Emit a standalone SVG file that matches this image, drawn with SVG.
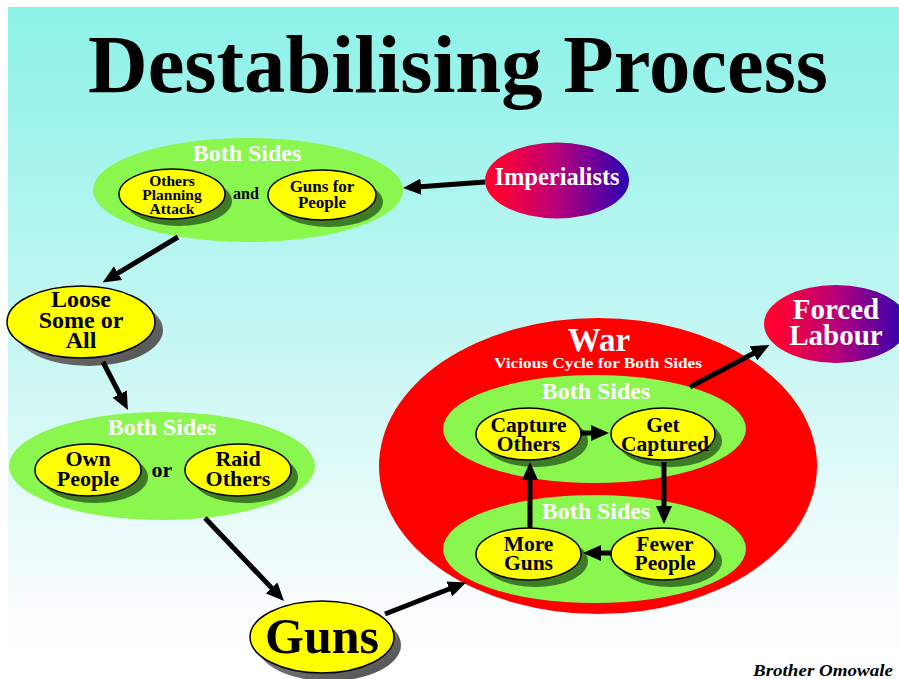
<svg xmlns="http://www.w3.org/2000/svg" width="899" height="679" viewBox="0 0 899 679">
<defs>
<linearGradient id="bg" x1="0" y1="0" x2="0" y2="1">
<stop offset="0" stop-color="#8cf2e8"/>
<stop offset="0.5" stop-color="#c6f7f3"/>
<stop offset="0.9" stop-color="#fbfdfe"/>
<stop offset="1" stop-color="#ffffff"/>
</linearGradient>
<linearGradient id="purp" x1="0" y1="0" x2="1" y2="0">
<stop offset="0.1" stop-color="#ff0033"/>
<stop offset="0.5" stop-color="#b8007a"/>
<stop offset="1" stop-color="#2a00b4"/>
</linearGradient>
<linearGradient id="gray" x1="0" y1="0" x2="1" y2="1">
<stop offset="0" stop-color="#8a8a8a"/>
<stop offset="1" stop-color="#505050"/>
</linearGradient>
<marker id="ah" viewBox="0 0 18 16" markerWidth="18" markerHeight="16" markerUnits="userSpaceOnUse" refX="4" refY="8" orient="auto">
<path d="M0,0 L18,8 L0,16 z" fill="#000"/>
</marker>
<style>
text{font-family:"Liberation Serif","Times New Roman",serif;font-weight:bold;text-anchor:middle}
.green{fill:#8af74f}
.yel{fill:#ffff00;stroke:#000;stroke-width:1.5}
.dsh{fill:#3e7b26}
.gsh{fill:url(#gray)}
.w{fill:#fff}
.k{fill:#000}
.arr line{stroke:#000;stroke-width:5;marker-end:url(#ah)}
</style>
</defs>
<rect x="0" y="0" width="899" height="679" fill="#fff"/>
<rect x="8" y="7" width="891" height="672" fill="url(#bg)"/>
<text id="title" x="458" y="92" font-size="83" textLength="740" lengthAdjust="spacingAndGlyphs" class="k">Destabilising Process</text>

<g id="war">
<ellipse cx="598" cy="466" rx="219" ry="148" fill="#ff0000"/>
<text x="599" y="351" font-size="33" class="w">War</text>
<text x="598" y="368" font-size="15" textLength="208" lengthAdjust="spacingAndGlyphs" class="w">Vicious Cycle for Both Sides</text>
</g>
<g id="both-upper">
<ellipse cx="594.5" cy="429" rx="151.5" ry="54" class="green"/>
<text x="596" y="399" font-size="24" class="w">Both Sides</text>
</g>
<g id="both-lower">
<ellipse cx="594.5" cy="549" rx="151.5" ry="54" class="green"/>
<text x="596" y="519" font-size="24" class="w">Both Sides</text>
</g>

<g id="both-top">
<ellipse cx="248" cy="190" rx="155" ry="52" class="green"/>
<text x="247" y="161" font-size="24" class="w">Both Sides</text>
<text x="246" y="199" font-size="16" class="k">and</text>
</g>
<g id="others-planning">
<ellipse cx="179" cy="201" rx="53" ry="25" class="dsh"/>
<ellipse cx="172" cy="194" rx="53" ry="25" class="yel"/>
<text font-size="15.5" class="k"><tspan x="172" y="186">Others</tspan><tspan x="172" y="200">Planning</tspan><tspan x="172" y="214">Attack</tspan></text>
</g>
<g id="guns-for-people">
<ellipse cx="329" cy="202" rx="54" ry="25" class="dsh"/>
<ellipse cx="322" cy="195" rx="54" ry="25" class="yel"/>
<text font-size="17" class="k"><tspan x="322" y="192">Guns for</tspan><tspan x="322" y="208">People</tspan></text>
</g>

<g id="imperialists">
<ellipse cx="557" cy="180.5" rx="72" ry="38" fill="url(#purp)"/>
<text x="557" y="185" font-size="24.5" class="w">Imperialists</text>
</g>

<g id="loose">
<ellipse cx="89" cy="330" rx="74" ry="36" class="gsh"/>
<ellipse cx="81" cy="322" rx="74" ry="36" class="yel"/>
<text font-size="24" class="k"><tspan x="81" y="307">Loose</tspan><tspan x="81" y="327.5">Some or</tspan><tspan x="81" y="348">All</tspan></text>
</g>

<g id="both-middle">
<ellipse cx="162" cy="466" rx="153" ry="54" class="green"/>
<text x="162" y="435" font-size="24" class="w">Both Sides</text>
<text x="162" y="477" font-size="22" class="k">or</text>
</g>
<g id="own-people">
<ellipse cx="95" cy="477" rx="53" ry="26" class="dsh"/>
<ellipse cx="88" cy="470" rx="53" ry="26" class="yel"/>
<text font-size="22" class="k"><tspan x="88" y="466">Own</tspan><tspan x="88" y="486">People</tspan></text>
</g>
<g id="raid-others">
<ellipse cx="245" cy="477" rx="53" ry="26" class="dsh"/>
<ellipse cx="238" cy="470" rx="53" ry="26" class="yel"/>
<text font-size="22" class="k"><tspan x="238" y="466">Raid</tspan><tspan x="238" y="486">Others</tspan></text>
</g>

<g id="guns">
<ellipse cx="329" cy="645" rx="72" ry="36" class="gsh"/>
<ellipse cx="322" cy="637" rx="72" ry="36" class="yel"/>
<text x="322" y="653" font-size="50" class="k">Guns</text>
</g>

<g id="capture-others">
<ellipse cx="535.5" cy="441" rx="52.5" ry="26" class="dsh"/>
<ellipse cx="528.5" cy="434" rx="52.5" ry="26" class="yel"/>
<text font-size="21.5" class="k"><tspan x="528.5" y="432">Capture</tspan><tspan x="528.5" y="451">Others</tspan></text>
</g>
<g id="get-captured">
<ellipse cx="670" cy="441" rx="52" ry="26" class="dsh"/>
<ellipse cx="663" cy="434" rx="52" ry="26" class="yel"/>
<text font-size="21.5" class="k"><tspan x="663" y="432">Get</tspan><tspan x="665" y="451">Captured</tspan></text>
</g>
<g id="more-guns">
<ellipse cx="535.5" cy="561" rx="52.5" ry="26" class="dsh"/>
<ellipse cx="528.5" cy="554" rx="52.5" ry="26" class="yel"/>
<text font-size="21.5" class="k"><tspan x="528.5" y="551">More</tspan><tspan x="528.5" y="570">Guns</tspan></text>
</g>
<g id="fewer-people">
<ellipse cx="670" cy="561" rx="52" ry="26" class="dsh"/>
<ellipse cx="663" cy="554" rx="52" ry="26" class="yel"/>
<text font-size="21.5" class="k"><tspan x="665" y="551">Fewer</tspan><tspan x="665" y="570">People</tspan></text>
</g>

<g id="forced-labour">
<ellipse cx="836" cy="324" rx="72" ry="39" fill="url(#purp)"/>
<text font-size="29" class="w"><tspan x="836" y="319">Forced</tspan><tspan x="836" y="345">Labour</tspan></text>
</g>

<g id="connectors" class="arr">
<line x1="485" y1="182" x2="417" y2="187"/>
<line x1="178" y1="237" x2="114.6" y2="275.2"/>
<line x1="103" y1="362" x2="121.5" y2="397.6"/>
<line x1="205" y1="518" x2="274.4" y2="590.9"/>
<line x1="385" y1="614" x2="453" y2="587.5"/>
<line x1="690" y1="387" x2="757" y2="351.5"/>
<line x1="581" y1="433" x2="595" y2="433"/>
<line x1="664" y1="462" x2="664" y2="510"/>
<line x1="611" y1="553" x2="597" y2="553"/>
<line x1="530" y1="528" x2="530" y2="476"/>
</g>

<text id="credit" x="893" y="676" font-size="16" font-style="italic" textLength="140" lengthAdjust="spacingAndGlyphs" style="text-anchor:end" class="k">Brother Omowale</text>
</svg>
